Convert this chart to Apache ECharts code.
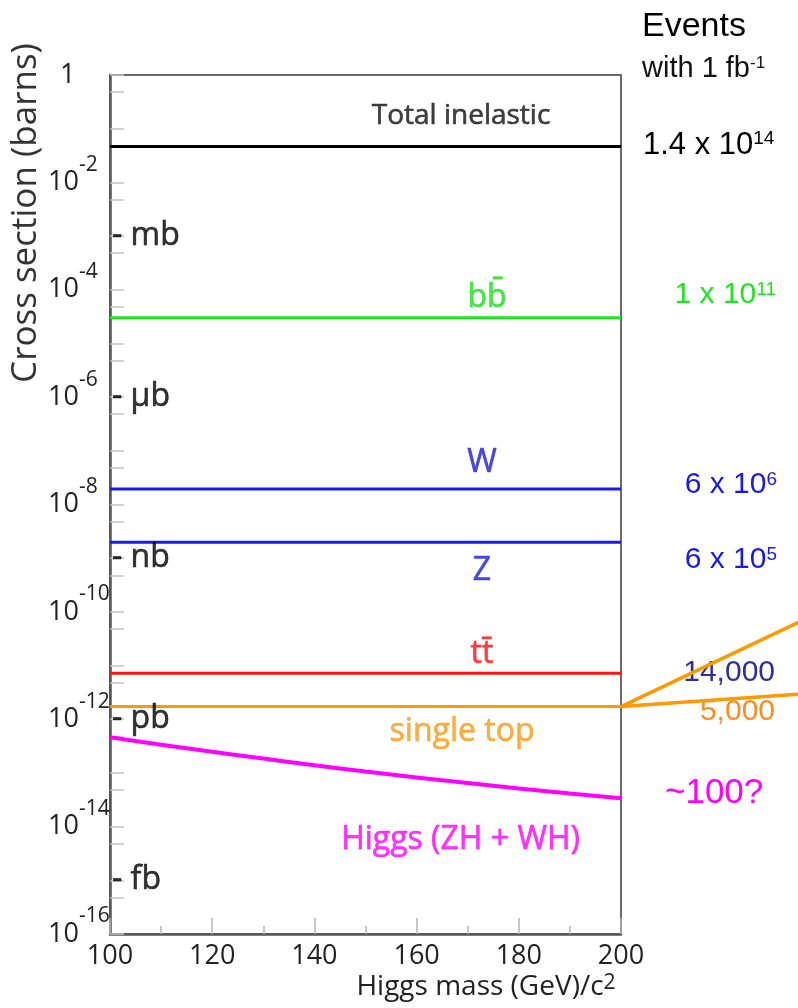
<!DOCTYPE html>
<html><head><meta charset="utf-8">
<script src="https://cdn.jsdelivr.net/npm/echarts@6/dist/echarts.min.js"></script>
<style>html,body{margin:0;padding:0;background:#fff}#chart{width:798px;height:1008px}</style>
</head><body><div id="chart"></div>
<script>
// ---- data ----
const massRange = [100, 200];
const processNames = ['Total inelastic', 'bb\u0304', 'W', 'Z', 'tt\u0304', 'single top'];
const processXsec = [0.0466, 3.0e-5, 1.95e-8, 1.98e-9, 7.2e-12, 1.72e-12];
const higgsMass = [100, 110, 120, 130, 140, 150, 160, 170, 180, 190, 200];
const higgsXsec = [4.61e-13, 3.36e-13, 2.47e-13, 1.85e-13, 1.39e-13, 1.06e-13, 8.26e-14, 6.48e-14, 5.14e-14, 4.14e-14, 3.37e-14];
const higgsName = 'Higgs (ZH + WH)';
const unitNames = ['mb', '\u03bcb', 'nb', 'pb', 'fb'];
const unitValues = [1e-3, 1e-6, 1e-9, 1e-12, 1e-15];
const yLabelValues = [1, 1e-2, 1e-4, 1e-6, 1e-8, 1e-10, 1e-12, 1e-14, 1e-16];
const xTickLabels = [100, 120, 140, 160, 180, 200];
const eventTexts = ['1.4 x 10{s|14}', '1 x 10{s|11}', '6 x 10{s|6}', '6 x 10{s|5}', '14,000', '5,000', '~100?'];
const calloutEnds = [[234.6, 6.3e-11], [234.6, 2.92e-12]];

// ---- styling / placement (not data) ----
const processColors = ['#000000', '#1ee61e', '#1a1af0', '#1a1af0', '#ff1414', '#ff9900'];
const labelColors = ['#111111', '#18e018', '#1c1ce0', '#1c1ce0', '#ff1010', '#fb9a12'];
const labelAnchors = [[168.7, 0.17], [173.8, 7.2e-5], [172.8, 5.9e-8], [172.8, 5.8e-10], [172.8, 1.65e-11], [168.9, 5.7e-13]];
const labelSizes = [28, 32, 32, 32, 32, 32];
const higgsLabelAnchor = [168.6, 5.6e-15];
const eventColors = ['#000000', '#1ee61e', '#1a1ae6', '#1a1ae6', '#2e3192', '#ff8a1e', '#ff00ff'];
const eventPos = [[643, 145, 'left'], [776, 295, 'right'], [777, 485, 'right'], [777, 560, 'right'], [775, 673, 'right'], [775, 712, 'right'], [665, 793, 'left']];
const eventSizes = [31, 30, 30, 30, 30, 30, 35];

const MY = '"Open Sans", "Noto Sans", sans-serif';
const AR = '"Liberation Sans", Arial, sans-serif';

// tick positions on the log axis: each decade and ~0.48 of each decade
const yTickValues = [];
for (let n = 0; n <= 16; n++) {
  yTickValues.push(Math.pow(10, -n));
  if (n < 16) yTickValues.push(0.48 * Math.pow(10, -n));
}

const series = [];
processNames.forEach((name, i) => {
  series.push({
    type: 'line', name: name, symbol: 'none', silent: true, z: 3,
    lineStyle: { color: processColors[i], width: 3 },
    data: [[massRange[0], processXsec[i]], [massRange[1], processXsec[i]]]
  });
});
series.push({
  type: 'line', name: higgsName, symbol: 'none', smooth: true, silent: true, z: 3,
  lineStyle: { color: '#ff00ff', width: 4 },
  data: higgsMass.map((m, i) => [m, higgsXsec[i]])
});
const labelData = processNames.map((name, i) => ({
  value: labelAnchors[i], name: name,
  label: { color: labelColors[i], fontSize: labelSizes[i], textBorderColor: labelColors[i], textBorderWidth: 0.6 }
}));
labelData.push({ value: higgsLabelAnchor, name: higgsName, label: { color: '#ff00ff', fontSize: 32, textBorderColor: '#ff00ff', textBorderWidth: 0.6 } });
series.push({
  type: 'scatter', symbolSize: 0, silent: true, z: 4,
  label: { show: true, position: 'inside', formatter: '{b}', fontFamily: MY },
  data: labelData
});
series.push({
  type: 'scatter', symbolSize: 0, silent: true, z: 4,
  label: { show: true, position: 'right', distance: 2, formatter: p => '- ' + p.name, fontFamily: MY, fontSize: 32, color: '#000', textBorderColor: '#000', textBorderWidth: 0.6 },
  data: unitNames.map((u, i) => ({ value: [massRange[0], unitValues[i]], name: u }))
});

const graphic = [
  { type: 'text', x: 26, y: 213, rotation: Math.PI / 2, style: { text: 'Cross section (barns)', font: '35px ' + MY, fill: '#333', align: 'center', verticalAlign: 'middle' } },
  { type: 'text', x: 486, y: 987, style: { text: 'Higgs mass (GeV)/c{s|2}', font: '28px ' + MY, fill: '#222', align: 'center', verticalAlign: 'middle',
      rich: { s: { fontSize: 21, fontFamily: MY, verticalAlign: 'top', lineHeight: 21, fill: '#222' } } } },
  { type: 'text', x: 642, y: 27, style: { text: 'Events', font: '34px ' + AR, fill: '#000', align: 'left', verticalAlign: 'middle' } },
  { type: 'text', x: 642, y: 69, style: { text: 'with 1 fb{s|-1}', font: '29px ' + AR, fill: '#111', align: 'left', verticalAlign: 'middle',
      rich: { s: { fontSize: 17, fontFamily: AR, verticalAlign: 'top', lineHeight: 17, fill: '#111' } } } }
];
eventTexts.forEach((t, i) => {
  graphic.push({ type: 'text', x: eventPos[i][0], y: eventPos[i][1], z: 1,
    style: { text: t, font: eventSizes[i] + 'px ' + AR, fill: eventColors[i], align: eventPos[i][2], verticalAlign: 'middle',
      rich: { s: { fontSize: 19, fontFamily: AR, verticalAlign: 'top', lineHeight: 19, fill: eventColors[i] } } } });
});

const chart = echarts.init(document.getElementById('chart'), null, { renderer: 'canvas' });
chart.setOption({
  backgroundColor: '#fff',
  animation: false,
  grid: { left: 110, right: 177, top: 75, bottom: 74, show: true, borderColor: '#6a6a6a', borderWidth: 2, backgroundColor: 'transparent', containLabel: false, outerBoundsMode: 'none' },
  xAxis: {
    type: 'value', min: massRange[0], max: massRange[1], interval: 20,
    axisLine: { show: true, lineStyle: { color: '#555', width: 2.5 } },
    axisTick: { show: true, inside: true, length: 16, lineStyle: { color: '#b5b5b5', width: 1.5 } },
    minorTick: { show: true, splitNumber: 2, length: 8, lineStyle: { color: '#b5b5b5', width: 1.5 } },
    splitLine: { show: false },
    axisLabel: { show: true, margin: 9, fontFamily: MY, fontSize: 27, color: '#222', customValues: xTickLabels, formatter: v => String(v) }
  },
  yAxis: {
    type: 'log', logBase: 10, min: 1e-16, max: 1,
    axisLine: { show: true, lineStyle: { color: '#555', width: 2.5 } },
    axisTick: { show: true, inside: true, length: 14, lineStyle: { color: '#c2c2c2', width: 1.5 }, customValues: yTickValues },
    minorTick: { show: false },
    splitLine: { show: false },
    axisLabel: {
      show: true, align: 'left', margin: 62, customValues: yLabelValues,
      formatter: v => {
        const e = Math.round(Math.log10(v));
        if (e === 0) return '{one|1}';
        return '{b|10}{s|' + e + '}';
      },
      rich: {
        one: { fontSize: 27, fontFamily: MY, color: '#222', lineHeight: 56, padding: [0, 0, 0, 12] },
        b: { fontSize: 27, fontFamily: MY, color: '#222', lineHeight: 56 },
        s: { fontSize: 21, fontFamily: MY, color: '#222', verticalAlign: 'top', lineHeight: 21 }
      }
    }
  },
  graphic: graphic,
  series: series
});

// callout lines from the single-top endpoint, positioned through the chart's own scales
const start = chart.convertToPixel({ gridIndex: 0 }, [massRange[1], processXsec[5]]);
calloutEnds.forEach(p => {
  const end = chart.convertToPixel({ gridIndex: 0 }, p);
  graphic.push({ type: 'line', z: 10, shape: { x1: start[0], y1: start[1], x2: end[0], y2: end[1] },
    style: { stroke: '#ff9900', lineWidth: 3.5, lineCap: 'round' } });
});
chart.setOption({ graphic: graphic });
</script>
</body></html>
